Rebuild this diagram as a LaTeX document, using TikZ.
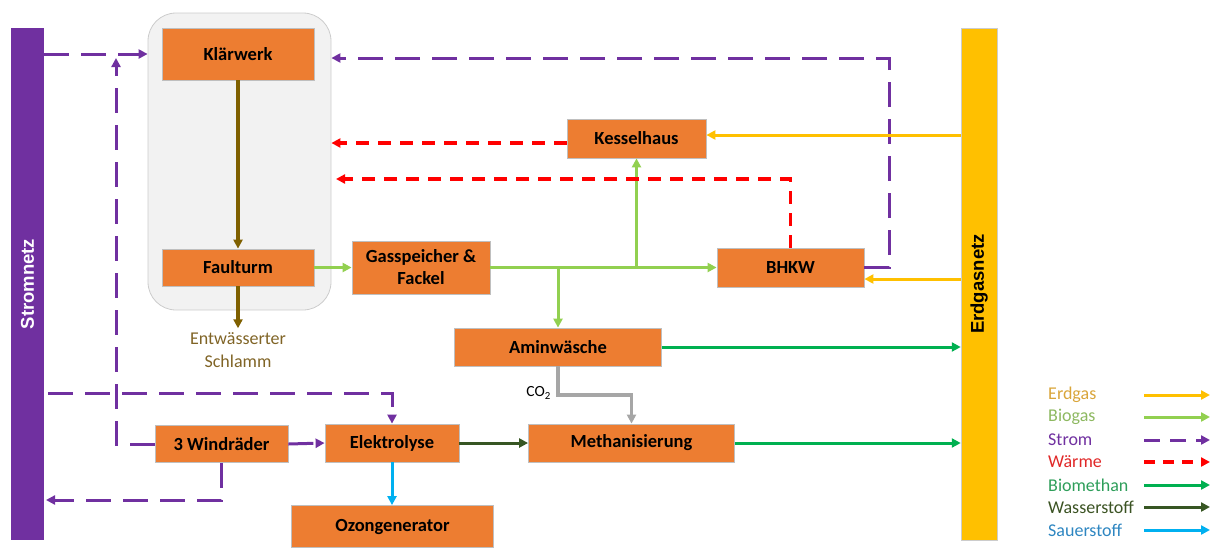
\documentclass[tikz,border=0pt]{standalone}
\usepackage{fontspec}
\setmainfont{Carlito}
\newfontfamily\arialf{Liberation Sans}
\usetikzlibrary{arrows.meta}
\definecolor{orangeC}{HTML}{ED7D31}
\definecolor{stromC}{HTML}{7030A0}
\definecolor{erdgasC}{HTML}{FFC000}
\definecolor{biogasC}{HTML}{92D050}
\definecolor{waermeC}{HTML}{FF0000}
\definecolor{bmC}{HTML}{00B050}
\definecolor{hC}{HTML}{375623}
\definecolor{oC}{HTML}{00B0F0}
\definecolor{brownC}{HTML}{7F6000}
\definecolor{coC}{HTML}{A6A6A6}
\definecolor{erdgasT}{HTML}{D9A53A}
\definecolor{biogasT}{HTML}{8DB860}
\definecolor{waermeT}{HTML}{E02828}
\definecolor{bmT}{HTML}{2E9E5A}
\definecolor{hT}{HTML}{3B5323}
\definecolor{oT}{HTML}{2E86C1}
\definecolor{brownT}{HTML}{806426}
\begin{document}
\begin{tikzpicture}[x=1pt,y=-1pt,
  box/.style={draw=black!25, line width=0.8pt, fill=orangeC, inner sep=0pt, align=center,
    font=\fontsize{18.5}{22}\selectfont\bfseries},
  tip/.style={-{Triangle[length=9pt,width=9pt]}},
  flow/.style={tip, line width=3pt},
  strom/.style={flow, draw=stromC, dash pattern=on 25pt off 12pt},
  waerme/.style={flow, draw=waermeC, line width=3.3pt, dash pattern=on 13pt off 9pt},
  erdgas/.style={flow, draw=erdgasC},
  biogas/.style={flow, draw=biogasC},
  biomethan/.style={flow, draw=bmC},
  wasserstoff/.style={flow, draw=hC},
  sauerstoff/.style={flow, draw=oC},
  schlamm/.style={flow, draw=brownC, line width=3.5pt},
  cotwo/.style={flow, draw=coC, line width=3.5pt},
  legtext/.style={anchor=west, inner sep=0pt, font=\fontsize{18}{21}\selectfont},
  bartext/.style={rotate=90, font=\arialf\fontsize{18.5}{22}\selectfont\bfseries}
]
\useasboundingbox (0,0) rectangle (1214,547);

% group background
\node[draw=black!20, line width=0.8pt, fill=black!5, rounded corners=28pt,
  minimum width=183pt, minimum height=297pt, inner sep=0pt] (grp) at (239.5,161.5) {};

% bars
\node[fill=stromC, minimum width=33pt, minimum height=512pt, inner sep=0pt] (sn) at (27.5,284) {};
\node[bartext, text=white] (snt) at (sn.center) {Stromnetz};
\node[fill=erdgasC, draw=black!20, line width=0.5pt, minimum width=36pt, minimum height=512pt, inner sep=0pt] (en) at (979,284) {};
\node[bartext, text=black] (ent) at (en.center) {Erdgasnetz};

% boxes
\node[box, minimum width=152pt, minimum height=52pt] (kw) at (238,54) {Klärwerk};
\node[box, minimum width=152pt, minimum height=37pt] (ft) at (238,267.5) {Faulturm};
\node[box, minimum width=138pt, minimum height=53pt] (gs) at (421,267.5) {Gasspeicher \&\\Fackel};
\node[box, minimum width=139pt, minimum height=39pt] (kh) at (636.5,138.5) {Kesselhaus};
\node[box, minimum width=147pt, minimum height=39pt] (bh) at (790.5,267.5) {BHKW};
\node[box, minimum width=207pt, minimum height=38pt] (am) at (558,347) {Aminwäsche};
\node[box, minimum width=206pt, minimum height=38pt] (me) at (631.5,443) {Methanisierung};
\node[box, minimum width=133pt, minimum height=37pt] (wr) at (221.5,444) {3 Windräder};
\node[box, minimum width=134pt, minimum height=38pt] (el) at (392,443) {Elektrolyse};
\node[box, minimum width=202pt, minimum height=42pt] (oz) at (392.5,526.5) {Ozongenerator};

\node[align=center, text=brownT, font=\fontsize{18}{23}\selectfont, inner sep=4pt] (sl) at (238,350) {Entwässerter\\Schlamm};
\node[font=\fontsize{15.5}{18}\selectfont, inner sep=0pt, anchor=east] (co) at (551,393) {CO\textsubscript{2}};

% coordinates
\coordinate (c1) at (116,58);
\coordinate (c2) at (48,393);
\coordinate (c3) at (46,500);
\coordinate (c4) at (889,58);
\coordinate (w1) at (567,143);
\coordinate (w2) at (336,179);
\coordinate (e1) at (961,135);
\coordinate (e2) at (961,279);
\coordinate (c5) at (558,395);

% sludge line
\draw[schlamm] (kw.south) -- (ft.north);
\draw[schlamm] (ft.south) -- (sl.north);

% biogas
\draw[biogas] (ft.east) -- (gs.west);
\draw[biogas] (gs.east) -- (bh.west);
\draw[biogas] (kh.south |- gs.east) -- (kh.south);
\draw[biogas] (am.north |- gs.east) -- (am.north);

% strom
\draw[strom] (sn.east |- kw.west) -- (grp.west |- kw.west);
\draw[strom] (wr.west) -| (c1);
\draw[strom] (c2) -| (el.north);
\draw[strom] (wr.east) -- (el.west);
\draw[strom] (wr.south) |- (c3);
\draw[strom] (bh.east) -| (c4) -- (grp.east |- c4);

% waerme
\draw[waerme] (kh.west |- w1) -- (grp.east |- w1);
\draw[waerme] (bh.north) |- (w2);

% erdgas
\draw[erdgas] (en.west |- e1) -- (kh.east |- e1);
\draw[erdgas] (en.west |- e2) -- (bh.east |- e2);

% biomethan
\draw[biomethan] (am.east) -- (en.west |- am.east);
\draw[biomethan] (me.east) -- (en.west |- me.east);

% wasserstoff, sauerstoff, co2
\draw[wasserstoff] (el.east) -- (me.west);
\draw[sauerstoff] (el.south) -- (el.south |- oz.north);
\draw[cotwo] (am.south) -- (c5) -| (me.north);

% legend
\node[legtext, text=erdgasT] (l1) at (1048,395) {Erdgas};
\node[legtext, text=biogasT] (l2) at (1048,417) {Biogas};
\node[legtext, text=stromC] (l3) at (1048,440) {Strom};
\node[legtext, text=waermeT] (l4) at (1048,462) {Wärme};
\node[legtext, text=bmT] (l5) at (1048,485) {Biomethan};
\node[legtext, text=hT] (l6) at (1048,507) {Wasserstoff};
\node[legtext, text=oT] (l7) at (1048,530) {Sauerstoff};
\foreach \i/\y in {1/395,2/417,3/440,4/462,5/485,6/507,7/530}{
  \coordinate (la\i) at (1144,\y);
  \coordinate (lb\i) at (1210,\y);
}
\draw[erdgas] (la1) -- (lb1);
\draw[biogas] (la2) -- (lb2);
\draw[strom, dash pattern=on 16pt off 10pt] (la3) -- (lb3);
\draw[waerme, dash pattern=on 11pt off 8pt] (la4) -- (lb4);
\draw[biomethan] (la5) -- (lb5);
\draw[wasserstoff] (la6) -- (lb6);
\draw[sauerstoff] (la7) -- (lb7);
\end{tikzpicture}
\end{document}
